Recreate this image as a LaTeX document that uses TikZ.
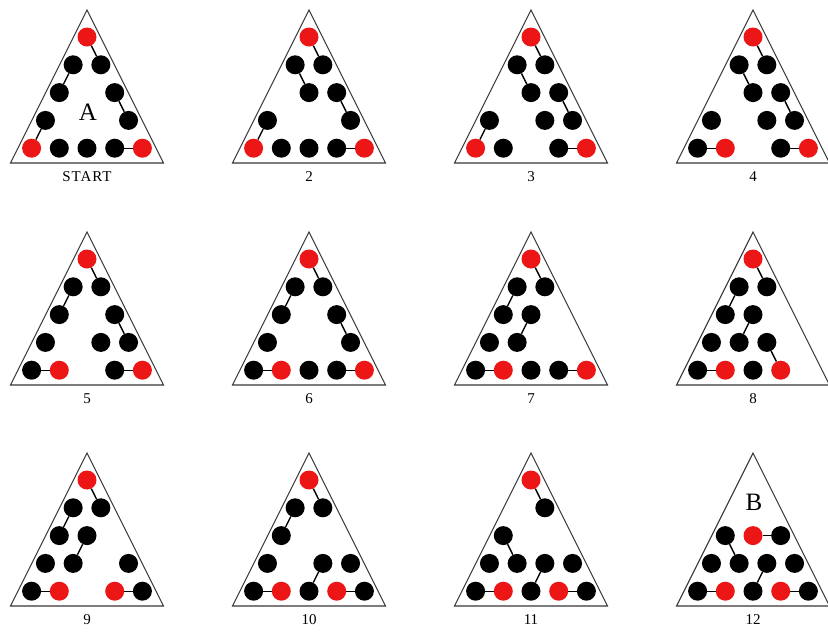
\documentclass[tikz,border=0pt]{standalone}
\usepackage{fontspec}
\setmainfont{Liberation Serif}
\definecolor{rd}{RGB}{236,22,22}
\definecolor{bk}{RGB}{0,0,0}
\definecolor{edge}{RGB}{55,55,55}
\tikzset{
  tri/.style={draw=edge,line width=1.1pt,line join=miter},
  disk/.style={circle,fill=#1,inner sep=0pt,minimum size=19pt},
  bond/.style={draw=black,line width=1.4pt},
  lbl/.style={font=\fontsize{15}{17}\selectfont,anchor=base,inner sep=0pt},
  big/.style={font=\fontsize{25}{28}\selectfont,inner sep=0pt}
}
\newcommand\panel[6]{%
  \draw[tri] (#2,#3) -- (#2+76.5,#3+153) -- (#2-76.5,#3+153) -- cycle;
  \node[lbl] (#1-lbl) at (#2,#3+171) {#4};
  \foreach \r/\c/\s in {#5} {%
    \node[disk=\s] (#1-\r\c) at ({#2+(\c-\r/2)*27.7},{#3+27+27.8*\r}) {};
  }
  \foreach \a/\b in {#6} {\draw[bond] (#1-\a) -- (#1-\b);}
}
\begin{document}
\begin{tikzpicture}[x=1pt,y=-1pt]
\useasboundingbox (0,0) rectangle (828,633);
% row 1
\panel{t1}{87}{10}{{\addfontfeature{LetterSpace=6}START}}
 {0/0/rd,1/0/bk,1/1/bk,2/0/bk,2/2/bk,3/0/bk,3/3/bk,4/0/rd,4/1/bk,4/2/bk,4/3/bk,4/4/rd}
 {00/11,10/20,22/33,30/40,43/44}
\node[big] (lblA) at (88,112) {A};
\panel{t2}{309}{10}{2}
 {0/0/rd,1/0/bk,1/1/bk,2/1/bk,2/2/bk,3/0/bk,3/3/bk,4/0/rd,4/1/bk,4/2/bk,4/3/bk,4/4/rd}
 {00/11,10/21,22/33,30/40,43/44}
\panel{t3}{531}{10}{3}
 {0/0/rd,1/0/bk,1/1/bk,2/1/bk,2/2/bk,3/0/bk,3/2/bk,3/3/bk,4/0/rd,4/1/bk,4/3/bk,4/4/rd}
 {00/11,10/21,22/33,30/40,43/44}
\panel{t4}{753}{10}{4}
 {0/0/rd,1/0/bk,1/1/bk,2/1/bk,2/2/bk,3/0/bk,3/2/bk,3/3/bk,4/0/bk,4/1/rd,4/3/bk,4/4/rd}
 {00/11,10/21,22/33,40/41,43/44}
% row 2
\panel{t5}{87}{232}{5}
 {0/0/rd,1/0/bk,1/1/bk,2/0/bk,2/2/bk,3/0/bk,3/2/bk,3/3/bk,4/0/bk,4/1/rd,4/3/bk,4/4/rd}
 {00/11,10/20,22/33,40/41,43/44}
\panel{t6}{309}{232}{6}
 {0/0/rd,1/0/bk,1/1/bk,2/0/bk,2/2/bk,3/0/bk,3/3/bk,4/0/bk,4/1/rd,4/2/bk,4/3/bk,4/4/rd}
 {00/11,10/20,22/33,40/41,43/44}
\panel{t7}{531}{232}{7}
 {0/0/rd,1/0/bk,1/1/bk,2/0/bk,2/1/bk,3/0/bk,3/1/bk,4/0/bk,4/1/rd,4/2/bk,4/3/bk,4/4/rd}
 {00/11,10/20,21/31,40/41,43/44}
\panel{t8}{753}{232}{8}
 {0/0/rd,1/0/bk,1/1/bk,2/0/bk,2/1/bk,3/0/bk,3/1/bk,3/2/bk,4/0/bk,4/1/rd,4/2/bk,4/3/rd}
 {00/11,10/20,21/31,32/43,40/41}
% row 3
\panel{t9}{87}{453}{9}
 {0/0/rd,1/0/bk,1/1/bk,2/0/bk,2/1/bk,3/0/bk,3/1/bk,3/3/bk,4/0/bk,4/1/rd,4/3/rd,4/4/bk}
 {00/11,10/20,21/31,40/41,43/44}
\panel{t10}{309}{453}{10}
 {0/0/rd,1/0/bk,1/1/bk,2/0/bk,3/0/bk,3/2/bk,3/3/bk,4/0/bk,4/1/rd,4/2/bk,4/3/rd,4/4/bk}
 {00/11,10/20,32/42,40/41,43/44}
\panel{t11}{531}{453}{11}
 {0/0/rd,1/1/bk,2/0/bk,3/0/bk,3/1/bk,3/2/bk,3/3/bk,4/0/bk,4/1/rd,4/2/bk,4/3/rd,4/4/bk}
 {00/11,20/31,32/42,40/41,43/44}
\panel{t12}{753}{453}{12}
 {2/0/bk,2/1/rd,2/2/bk,3/0/bk,3/1/bk,3/2/bk,3/3/bk,4/0/bk,4/1/rd,4/2/bk,4/3/rd,4/4/bk}
 {20/31,21/22,32/42,40/41,43/44}
\node[big] (lblB) at (754,502) {B};
\end{tikzpicture}
\end{document}
